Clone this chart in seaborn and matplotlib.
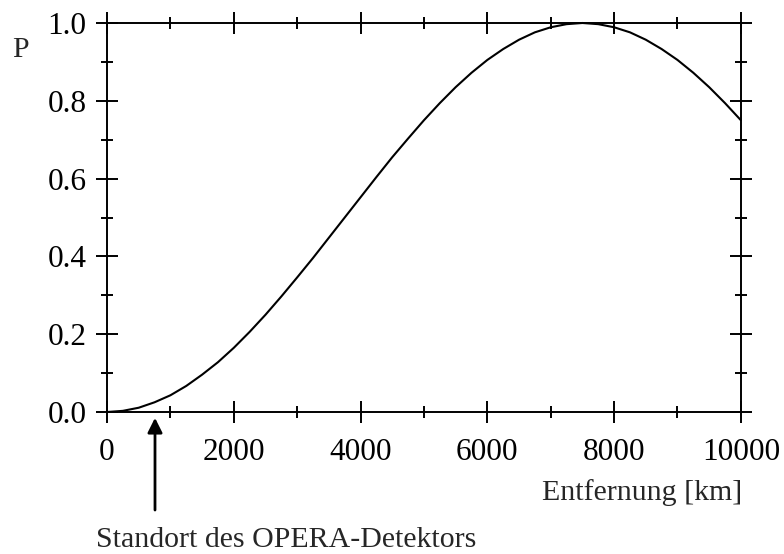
"""Oscillation probability vs distance (OPERA)."""

import numpy as np
import pandas as pd
import seaborn as sns
import matplotlib
matplotlib.use('Agg')
import matplotlib.pyplot as plt
from matplotlib.ticker import MultipleLocator

# values
distance_km = [0, 250, 500, 750, 1000, 1250, 1500, 1750, 2000, 2250,
               2500, 2750, 3000, 3250, 3500, 3750, 4000, 4250, 4500, 4750,
               5000, 5250, 5500, 5750, 6000, 6250, 6500, 6750, 7000, 7250,
               7500, 7750, 8000, 8250, 8500, 8750, 9000, 9250, 9500, 9750,
               10000]
prob = [0.000, 0.003, 0.011, 0.025, 0.043, 0.067, 0.096, 0.128, 0.165, 0.206,
        0.250, 0.297, 0.346, 0.396, 0.448, 0.500, 0.552, 0.604, 0.655, 0.703,
        0.750, 0.794, 0.835, 0.872, 0.905, 0.933, 0.957, 0.976, 0.989, 0.997,
        1.000, 0.997, 0.989, 0.976, 0.957, 0.933, 0.905, 0.872, 0.835, 0.794,
        0.750]
x_ticks = [0, 2000, 4000, 6000, 8000, 10000]
y_ticks = [0.0, 0.2, 0.4, 0.6, 0.8, 1.0]
opera_km = 757

sns.set_theme(style='ticks')
plt.rcParams['font.family'] = ['Liberation Serif', 'DejaVu Serif']
FS = 22.5
LFS = 21.5
plt.rcParams['font.size'] = FS

df = pd.DataFrame({'L': distance_km, 'P': prob})

fig = plt.figure(figsize=(7.84, 5.54), dpi=100)
ax = fig.add_axes([0.1365, 0.2563, 0.8085, 0.7022])
sns.lineplot(data=df, x='L', y='P', color='black', linewidth=1.5,
             ax=ax, clip_on=False)

ax.set_xlim(0, 10000)
ax.set_ylim(0, 1)
ax.set_xticks(x_ticks)
ax.set_xticklabels([str(v) for v in x_ticks])
ax.set_yticks(y_ticks)
ax.set_yticklabels([f'{v:.1f}' for v in y_ticks])
ax.xaxis.set_minor_locator(MultipleLocator(1000))
ax.yaxis.set_minor_locator(MultipleLocator(0.1))
ax.set_xlabel('')
ax.set_ylabel('')

for s in ax.spines.values():
    s.set_linewidth(1.4)
    s.set_color('black')
ax.tick_params(which='both', direction='inout', top=True, right=True,
               colors='black', labelsize=FS, width=1.4)
ax.tick_params(which='major', length=15.8, pad=7)
ax.tick_params(which='minor', length=8.6)
ax.tick_params(axis='x', which='major', pad=11)

fig.text(12 / 784, 1 - 50 / 554, 'P', fontsize=LFS, ha='left', va='center')
fig.text(742 / 784, 1 - 493 / 554, 'Entfernung [km]', fontsize=LFS,
         ha='right', va='center')
fig.text(286 / 784, 1 - 540 / 554, 'Standort des OPERA-Detektors',
         fontsize=LFS, ha='center', va='center')

ax.annotate('', xy=(opera_km, -0.015), xytext=(opera_km, -0.252),
            xycoords='data', textcoords='data', annotation_clip=False,
            arrowprops=dict(arrowstyle='-|>', color='black', lw=2,
                            mutation_scale=22, shrinkA=0, shrinkB=0))

fig.savefig('out.png', dpi=100)
plt.close(fig)
